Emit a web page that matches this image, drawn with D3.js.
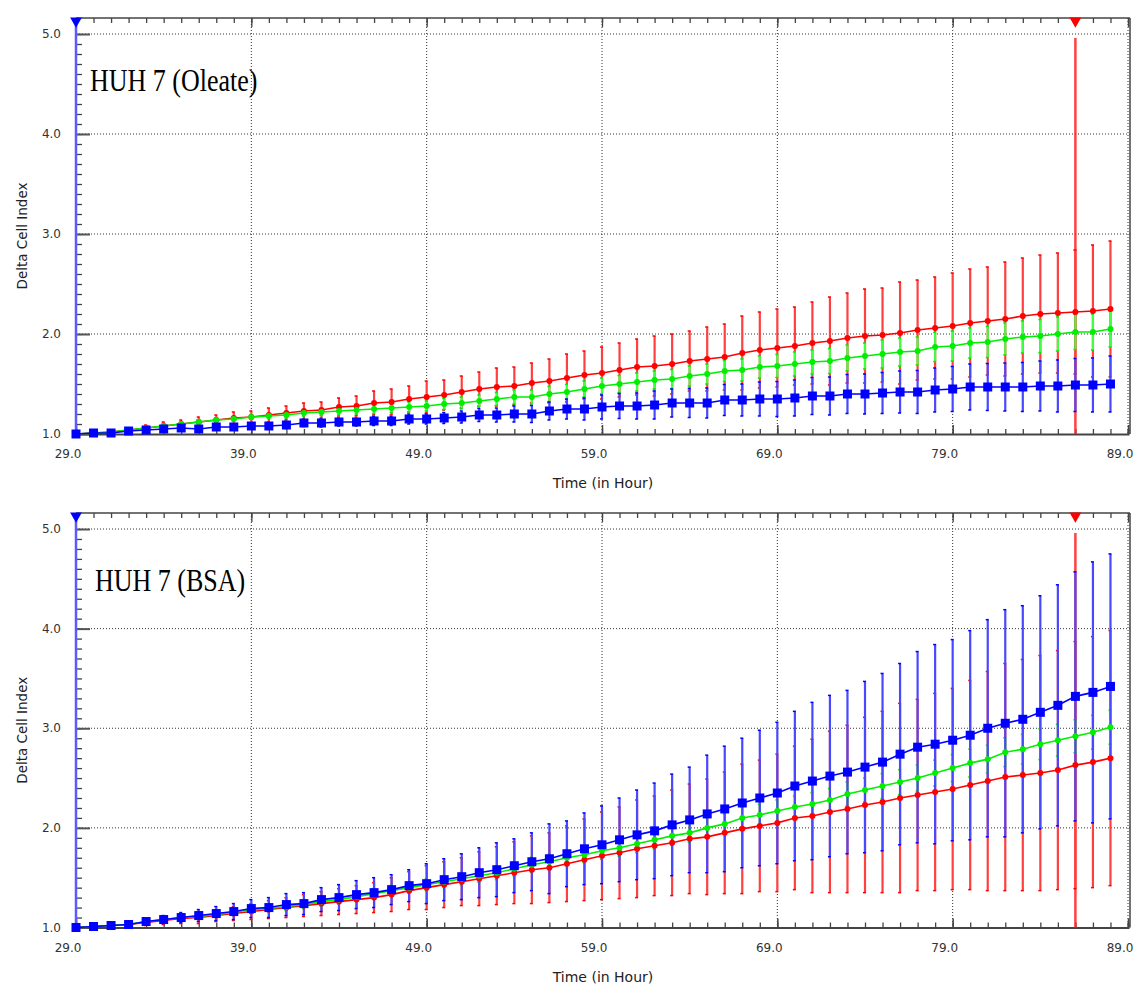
<!DOCTYPE html>
<html><head><meta charset="utf-8">
<script src="https://cdn.jsdelivr.net/npm/d3@7"></script>
<style>body{margin:0;background:#fff}svg{display:block}</style>
</head><body>
<script>
const hours = [29,30,31,32,33,34,35,36,37,38,39,40,41,42,43,44,45,46,47,48,49,50,51,52,53,54,55,56,57,58,59,60,61,62,63,64,65,66,67,68,69,70,71,72,73,74,75,76,77,78,79,80,81,82,83,84,85,86,87,88];
const xTickLabels = [29,39,49,59,69,79,89];
const yTickLabels = [1,2,3,4,5];
const markerHour = 86;
const markerTop = 4.96;

// Panel 1: HUH 7 (Oleate)
const oleateRed = [1.00,1.01,1.02,1.04,1.06,1.08,1.10,1.12,1.14,1.16,1.17,1.19,1.21,1.23,1.24,1.27,1.28,1.31,1.32,1.35,1.37,1.39,1.42,1.45,1.47,1.48,1.51,1.53,1.56,1.59,1.61,1.64,1.67,1.68,1.70,1.73,1.75,1.77,1.81,1.84,1.86,1.88,1.91,1.93,1.96,1.98,1.99,2.01,2.04,2.06,2.08,2.11,2.13,2.15,2.18,2.20,2.21,2.22,2.23,2.25];
const oleateRedErr = [0,0.01,0.02,0.02,0.03,0.04,0.04,0.05,0.05,0.06,0.06,0.07,0.07,0.08,0.08,0.09,0.10,0.12,0.13,0.13,0.16,0.15,0.16,0.17,0.19,0.19,0.20,0.22,0.24,0.24,0.26,0.27,0.28,0.30,0.30,0.30,0.32,0.33,0.37,0.38,0.39,0.39,0.41,0.44,0.45,0.47,0.47,0.51,0.50,0.51,0.53,0.54,0.54,0.57,0.58,0.59,0.60,0.62,0.66,0.68];
const oleateGreen = [1.00,1.01,1.02,1.04,1.06,1.08,1.10,1.12,1.14,1.15,1.17,1.18,1.19,1.21,1.22,1.23,1.24,1.25,1.26,1.27,1.28,1.30,1.31,1.33,1.35,1.37,1.37,1.40,1.42,1.45,1.48,1.50,1.52,1.54,1.55,1.58,1.60,1.63,1.64,1.67,1.68,1.70,1.72,1.73,1.76,1.78,1.80,1.82,1.83,1.87,1.88,1.91,1.92,1.95,1.97,1.98,2.00,2.02,2.02,2.05];
const oleateGreenErr = [0,0.005,0.01,0.01,0.01,0.015,0.015,0.02,0.02,0.02,0.02,0.025,0.03,0.03,0.035,0.04,0.04,0.045,0.045,0.05,0.05,0.055,0.06,0.06,0.065,0.07,0.07,0.075,0.075,0.08,0.08,0.085,0.09,0.09,0.095,0.10,0.10,0.105,0.11,0.11,0.115,0.12,0.12,0.125,0.13,0.13,0.14,0.14,0.14,0.145,0.15,0.15,0.155,0.16,0.16,0.165,0.17,0.175,0.18,0.18];
const oleateBlue = [1.00,1.01,1.01,1.03,1.04,1.05,1.06,1.05,1.07,1.07,1.08,1.08,1.09,1.11,1.11,1.12,1.12,1.13,1.13,1.15,1.15,1.16,1.17,1.19,1.19,1.20,1.20,1.23,1.25,1.25,1.27,1.28,1.28,1.29,1.31,1.31,1.31,1.34,1.34,1.35,1.35,1.36,1.38,1.38,1.40,1.40,1.41,1.42,1.42,1.44,1.45,1.47,1.47,1.47,1.47,1.48,1.48,1.49,1.49,1.50];
const oleateBlueErr = [0,0.005,0.01,0.01,0.015,0.02,0.02,0.02,0.025,0.03,0.03,0.03,0.035,0.035,0.04,0.04,0.04,0.045,0.045,0.05,0.05,0.055,0.06,0.065,0.07,0.08,0.085,0.09,0.10,0.11,0.12,0.125,0.13,0.14,0.14,0.145,0.15,0.155,0.16,0.17,0.175,0.18,0.185,0.19,0.195,0.20,0.205,0.21,0.215,0.22,0.225,0.23,0.235,0.24,0.245,0.25,0.26,0.265,0.27,0.28];

// Panel 2: HUH 7 (BSA)
const bsaRed = [1.00,1.01,1.02,1.03,1.05,1.07,1.09,1.10,1.12,1.14,1.16,1.18,1.20,1.22,1.24,1.26,1.28,1.30,1.33,1.37,1.40,1.43,1.46,1.49,1.52,1.55,1.58,1.60,1.64,1.68,1.72,1.75,1.79,1.82,1.85,1.89,1.91,1.95,1.99,2.02,2.05,2.10,2.12,2.16,2.19,2.23,2.26,2.30,2.33,2.36,2.39,2.43,2.47,2.51,2.53,2.55,2.58,2.63,2.66,2.70];
const bsaRedErr = [0,0.01,0.01,0.02,0.03,0.04,0.05,0.06,0.06,0.07,0.08,0.09,0.10,0.11,0.12,0.13,0.14,0.15,0.17,0.19,0.22,0.23,0.24,0.27,0.29,0.31,0.34,0.35,0.38,0.41,0.44,0.46,0.49,0.50,0.53,0.55,0.58,0.61,0.65,0.66,0.69,0.72,0.77,0.81,0.84,0.88,0.91,0.95,0.96,0.99,1.01,1.05,1.10,1.14,1.16,1.18,1.20,1.24,1.26,1.28];
const bsaGreen = [1.00,1.01,1.02,1.03,1.06,1.08,1.10,1.11,1.13,1.15,1.18,1.19,1.21,1.23,1.26,1.28,1.31,1.34,1.37,1.40,1.43,1.46,1.49,1.52,1.55,1.59,1.63,1.66,1.70,1.73,1.77,1.80,1.84,1.88,1.92,1.95,2.00,2.04,2.10,2.13,2.17,2.21,2.24,2.28,2.34,2.38,2.42,2.46,2.50,2.55,2.60,2.65,2.69,2.76,2.79,2.84,2.88,2.92,2.96,3.01];
const bsaGreenErr = [0,0.005,0.01,0.01,0.015,0.02,0.02,0.025,0.03,0.03,0.035,0.035,0.04,0.04,0.045,0.045,0.05,0.05,0.055,0.055,0.06,0.06,0.065,0.065,0.07,0.07,0.075,0.075,0.08,0.08,0.085,0.085,0.09,0.09,0.095,0.095,0.10,0.10,0.105,0.105,0.11,0.11,0.115,0.115,0.12,0.12,0.125,0.125,0.13,0.13,0.135,0.14,0.14,0.145,0.15,0.155,0.16,0.165,0.17,0.17];
const bsaBlue = [1.00,1.01,1.02,1.03,1.06,1.08,1.10,1.12,1.14,1.16,1.19,1.20,1.23,1.24,1.28,1.30,1.33,1.35,1.38,1.42,1.44,1.48,1.51,1.55,1.58,1.62,1.66,1.69,1.74,1.79,1.83,1.88,1.93,1.97,2.03,2.08,2.14,2.19,2.25,2.30,2.35,2.42,2.47,2.52,2.56,2.61,2.66,2.74,2.81,2.84,2.88,2.93,3.00,3.05,3.09,3.16,3.23,3.32,3.36,3.42];
const bsaBlueErr = [0,0.01,0.01,0.02,0.03,0.04,0.05,0.06,0.07,0.08,0.09,0.10,0.11,0.11,0.12,0.13,0.14,0.15,0.15,0.16,0.20,0.21,0.23,0.25,0.27,0.27,0.29,0.35,0.33,0.36,0.39,0.42,0.45,0.48,0.51,0.53,0.59,0.63,0.65,0.68,0.71,0.75,0.79,0.81,0.82,0.86,0.89,0.91,0.96,1.00,1.01,1.05,1.09,1.14,1.14,1.17,1.21,1.25,1.31,1.33];

const panels = [
  {frameTop:18, y5:34, y1:434, title:'HUH 7 (Oleate)', tx:90, ty:91,
   series:[{c:'#ff0000', e:'#ff4040', v:oleateRed, err:oleateRedErr, m:'circle'},
           {c:'#00ee00', e:'#40ff40', v:oleateGreen, err:oleateGreenErr, m:'circle'},
           {c:'#0000ff', e:'#4848ff', v:oleateBlue, err:oleateBlueErr, m:'square'}]},
  {frameTop:513, y5:529, y1:927.5, title:'HUH 7 (BSA)', tx:95, ty:590.5,
   series:[{c:'#ff0000', e:'#ff4040', v:bsaRed, err:bsaRedErr, m:'circle'},
           {c:'#00ee00', e:'#40ff40', v:bsaGreen, err:bsaGreenErr, m:'circle'},
           {c:'#0000ff', e:'#4848ff', v:bsaBlue, err:bsaBlueErr, m:'square'}]}
];

const svg = d3.select('body').append('svg').attr('width',1134).attr('height',987);
const axisColor = '#444';
const minorY = d3.range(10, 51).map(d => d/10);
const allHours = d3.range(29, 90);

panels.forEach(p => {
  const x = d3.scaleLinear().domain([29,89]).range([76,1128]);
  const y = d3.scaleLinear().domain([1,5]).range([p.y1, p.y5]);
  const left = 76, right = 1130, bottom = p.y1, top = p.frameTop;
  const g = svg.append('g');

  // gridlines
  g.append('g').selectAll('line').data(xTickLabels.slice(1)).join('line')
    .attr('x1', d => x(d)).attr('x2', d => x(d)).attr('y1', top).attr('y2', bottom)
    .attr('stroke', '#333').attr('stroke-width', 1).attr('stroke-dasharray', '1,2');
  g.append('g').selectAll('line').data(yTickLabels.slice(1)).join('line')
    .attr('x1', left).attr('x2', right).attr('y1', d => y(d)).attr('y2', d => y(d))
    .attr('stroke', '#333').attr('stroke-width', 1).attr('stroke-dasharray', '1,2');

  // frame
  g.append('line').attr('x1', left).attr('x2', right).attr('y1', top).attr('y2', top).attr('stroke', axisColor).attr('stroke-width', 1.5);
  g.append('line').attr('x1', right).attr('x2', right).attr('y1', top).attr('y2', bottom).attr('stroke', axisColor).attr('stroke-width', 1.5);

  // top ticks (pointing down)
  const topMinor = d3.axisBottom(x).tickValues(allHours).tickSize(5).tickFormat('');
  g.append('g').attr('transform', `translate(0,${top})`).call(topMinor)
    .call(a => { a.select('.domain').remove(); a.selectAll('line').attr('stroke', axisColor).attr('stroke-width', 1.3); });
  const topMajor = d3.axisBottom(x).tickValues(xTickLabels).tickSize(9).tickFormat('');
  g.append('g').attr('transform', `translate(0,${top})`).call(topMajor)
    .call(a => { a.select('.domain').remove(); a.selectAll('line').attr('stroke', axisColor).attr('stroke-width', 1.3); });

  // bottom axis (ticks pointing up)
  const botMinor = d3.axisTop(x).tickValues(allHours).tickSize(5).tickFormat('');
  g.append('g').attr('transform', `translate(0,${bottom})`).call(botMinor)
    .call(a => { a.select('.domain').attr('stroke', axisColor).attr('stroke-width', 2); a.selectAll('line').attr('stroke', axisColor).attr('stroke-width', 1.3); });
  const botMajor = d3.axisTop(x).tickValues(xTickLabels).tickSize(9).tickFormat('');
  g.append('g').attr('transform', `translate(0,${bottom})`).call(botMajor)
    .call(a => { a.select('.domain').remove(); a.selectAll('line').attr('stroke', axisColor).attr('stroke-width', 1.5); });

  // x tick labels
  g.append('g').selectAll('text').data(xTickLabels).join('text')
    .attr('x', d => x(d) - 8).attr('y', bottom + 20)
    .attr('text-anchor', 'middle').attr('dominant-baseline', 'central')
    .attr('font-family', 'DejaVu Sans, sans-serif').attr('font-size', 12).attr('fill', '#333')
    .text(d => d3.format('.1f')(d));

  // left axis (blue)
  const leftMinor = d3.axisRight(y).tickValues(minorY).tickSize(6).tickFormat('');
  g.append('g').attr('transform', `translate(${left},0)`).call(leftMinor)
    .call(a => { a.select('.domain').remove(); a.selectAll('line').attr('stroke', axisColor).attr('stroke-width', 1.3); });
  const leftMajor = d3.axisRight(y).tickValues(yTickLabels).tickSize(14).tickFormat('');
  g.append('g').attr('transform', `translate(${left},0)`).call(leftMajor)
    .call(a => { a.select('.domain').remove(); a.selectAll('line').attr('stroke', '#555').attr('stroke-width', 2); });
  g.append('line').attr('x1', left).attr('x2', left).attr('y1', top).attr('y2', bottom + 1)
    .attr('stroke', '#5a5aff').attr('stroke-width', 2.5);

  // y tick labels
  g.append('g').selectAll('text').data(yTickLabels).join('text')
    .attr('x', 61).attr('y', d => y(d))
    .attr('text-anchor', 'end').attr('dominant-baseline', 'central')
    .attr('font-family', 'DejaVu Sans, sans-serif').attr('font-size', 12).attr('fill', '#333')
    .text(d => d3.format('.1f')(d));

  // axis titles
  g.append('text').attr('x', 603).attr('y', bottom + 49).attr('text-anchor', 'middle')
    .attr('dominant-baseline', 'central')
    .attr('font-family', 'DejaVu Sans, sans-serif').attr('font-size', 14).attr('fill', '#222')
    .text('Time (in Hour)');
  g.append('text').attr('transform', `translate(22,${(top + bottom) / 2 + 10}) rotate(-90)`)
    .attr('text-anchor', 'middle').attr('dominant-baseline', 'central')
    .attr('font-family', 'DejaVu Sans, sans-serif').attr('font-size', 13.5).attr('fill', '#222')
    .text('Delta Cell Index');

  // marker line at selected hour
  g.append('line').attr('x1', x(markerHour)).attr('x2', x(markerHour))
    .attr('y1', y(markerTop)).attr('y2', bottom)
    .attr('stroke', '#ff2020').attr('stroke-opacity', 0.85).attr('stroke-width', 2.5);

  // error bars
  p.series.forEach(s => {
    const eb = g.append('g');
    hours.forEach((h, i) => {
      const e = s.err[i];
      if (e <= 0) return;
      const cx = x(h), yt = y(s.v[i] + e), yb = y(s.v[i] - e);
      eb.append('line').attr('x1', cx).attr('x2', cx).attr('y1', yt).attr('y2', yb)
        .attr('stroke', s.e).attr('stroke-width', 2.2);
      [yt, yb].forEach(yy => eb.append('line').attr('x1', cx - 2).attr('x2', cx + 1).attr('y1', yy).attr('y2', yy)
        .attr('stroke', s.c).attr('stroke-width', 1.5));
    });
  });

  // lines + markers
  p.series.forEach(s => {
    const line = d3.line().x((d, i) => x(hours[i])).y(d => y(d));
    g.append('path').datum(s.v).attr('d', line).attr('fill', 'none')
      .attr('stroke', s.c).attr('stroke-width', 1.6);
    const mg = g.append('g');
    if (s.m === 'square') {
      mg.selectAll('rect').data(s.v).join('rect')
        .attr('x', (d, i) => x(hours[i]) - 4.5).attr('y', d => y(d) - 4.5)
        .attr('width', 9).attr('height', 9).attr('fill', s.c);
    } else {
      mg.selectAll('circle').data(s.v).join('circle')
        .attr('cx', (d, i) => x(hours[i])).attr('cy', d => y(d)).attr('r', 3)
        .attr('fill', s.c);
    }
  });

  // triangles on top frame
  const tri = d3.symbol().type(d3.symbolTriangle).size(60);
  g.append('path').attr('d', tri()).attr('fill', '#0000ff')
    .attr('transform', `translate(${x(29)},${top + 3}) rotate(180)`);
  g.append('path').attr('d', tri()).attr('fill', '#ff0000')
    .attr('transform', `translate(${x(markerHour)},${top + 3}) rotate(180)`);

  // panel title
  g.append('text').attr('transform', `translate(${p.tx},${p.ty}) scale(1,1.2)`)
    .attr('font-family', 'Liberation Serif, Times New Roman, serif').attr('font-size', 26).attr('fill', '#000')
    .text(p.title);
});
</script>
</body></html>
